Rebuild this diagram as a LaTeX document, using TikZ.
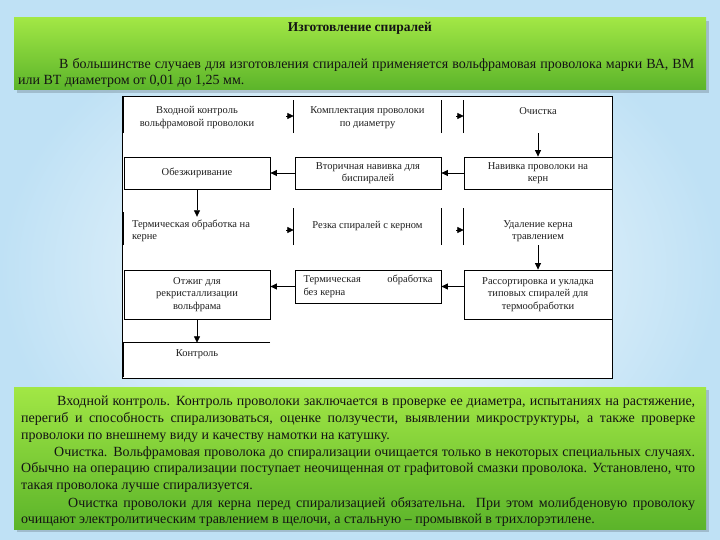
\documentclass[tikz,border=0pt]{standalone}
\usepackage{fontspec}
\setmainfont{Liberation Serif}
\usetikzlibrary{arrows.meta}
\definecolor{bgblue}{HTML}{BFE1F5}
\definecolor{gtop}{HTML}{A2E745}
\definecolor{gbot}{HTML}{5BB42A}
\definecolor{ink}{HTML}{141414}
\begin{document}
\begin{tikzpicture}[x=1pt,y=-1pt,
  fbox/.style={minimum width=146pt, inner sep=0pt, align=center, text=black!88,
    font=\fontsize{10.5}{12.5}\selectfont},
  fb/.style={draw=black, line width=0.8pt},
  tip/.style={-{Triangle[length=6.5pt,width=6pt]}, line width=0.8pt},
  para/.style={anchor=base west, inner sep=0pt, text=ink, font=\fontsize{14}{16}\selectfont},
  greenpanel/.style={top color=gtop, bottom color=gbot},
  shadowpanel/.style={fill=black, opacity=0.16}
  ]
\useasboundingbox (0,0) rectangle (720,540);
% background
\shade[inner color=white, outer color=bgblue] (0,0) rectangle (720,540);

% top green panel
\fill[shadowpanel] (17,21) rectangle (709,93);
\shade[greenpanel] (14,18) rectangle (706,90);
\node[inner sep=0pt, text=ink, font=\bfseries\fontsize{13.5}{15}\selectfont] (title) at (360,28) {Изготовление спиралей};
\node[para] (p1) at (59,68.5) {\makebox[635pt][s]{В большинстве случаев для изготовления спиралей применяется вольфрамовая проволока марки ВА, ВМ}};
\node[para] (p2) at (18,84.5) {или ВТ диаметром от 0,01 до 1,25 мм.};

% white flowchart panel
\fill[white] (122,96) rectangle (612,378);
\draw[line width=0.8pt] (122,96) rectangle (612,378);
\coordinate (pbot) at (0,377);

% row 1
\node[fbox, minimum height=31pt] (b11) at (197,117.5) {Входной контроль\\вольфрамовой проволоки};
\node[fbox, minimum width=147pt, minimum height=31pt] (b12) at (367.5,117.5) {Комплектация проволоки\\по диаметру};
\node[fbox, minimum width=148pt, minimum height=31pt] (b13) at (538,117.5) {Очистка\\\phantom{x}};
\draw[fb] (b11.south west) -- ([yshift=5pt]b11.north west);
\draw[fb] (b12.south west) -- ([yshift=2pt]b12.north west);
\draw[fb] (b12.south east) -- ([yshift=2pt]b12.north east);
\draw[fb] (b13.south west) -- ([yshift=2pt]b13.north west);

% row 2
\node[fbox, fb, minimum height=32pt] (b21) at (197,173) {Обезжиривание};
\node[fbox, fb, minimum height=32pt] (b22) at (368,173) {Вторичная навивка для\\биспиралей};
\node[fbox, fb, minimum width=148pt, minimum height=32pt] (b23) at (538,173) {Навивка проволоки на\\керн};

% row 3
\node[fbox, minimum height=28pt] (b31) at (197,231) {\makebox[130pt][l]{Термическая обработка на}\\\makebox[130pt][l]{керне}};
\node[fbox, minimum width=147pt, minimum height=28pt] (b32) at (367.5,231) {Резка спиралей с керном\\\phantom{x}};
\node[fbox, minimum width=148pt, minimum height=28pt] (b33) at (538,231) {Удаление керна\\травлением};
\draw[fb] (b31.south west) -- ([yshift=5pt]b31.north west);
\draw[fb] (b32.south west) -- ([yshift=9pt]b32.north west);
\draw[fb] (b32.south east) -- ([yshift=9pt]b32.north east);
\draw[fb] (b33.south west) -- ([yshift=9pt]b33.north west);

% row 4
\node[fbox, fb, minimum height=49pt] (b41) at (197,294.5) {Отжиг для\\рекристаллизации\\вольфрама};
\node[fbox, fb, minimum height=33pt] (b42) at (368,286.5) {\makebox[129pt][s]{Термическая обработка}\\\makebox[129pt][l]{без керна}};
\node[fbox, fb, minimum width=148pt, minimum height=49pt] (b43) at (538,294.5) {Рассортировка и укладка\\типовых спиралей для\\термообработки};

% row 5
\node[fbox, minimum height=22pt] (b5) at (197,354) {Контроль};
\draw[fb] (b5.north east) -- (b5.north west) -- (b5.north west |- pbot);

% connectors
\coordinate (a11) at (286,116);
\coordinate (a12) at (456,116);
\coordinate (a31) at (286,230);
\coordinate (a32) at (456,230);
\draw[tip] (a11) -- (a11 -| b12.west);
\draw[tip] (a12) -- (a12 -| b13.west);
\draw[tip] (b13.south) -- (b23.north);
\draw[tip] (b23.west) -- (b22.east);
\draw[tip] (b22.west) -- (b21.east);
\draw[tip] (b21.south) -- (b21.south |- b31.north);
\draw[tip] (a31) -- (a31 -| b32.west);
\draw[tip] (a32) -- (a32 -| b33.west);
\draw[tip] (b33.south) -- (b43.north);
\draw[tip] (b43.west |- b42.east) -- (b42.east);
\draw[tip] (b42.west) -- (b42.west -| b41.east);
\draw[tip] (b41.south) -- (b5.north);

% bottom green panel
\fill[shadowpanel] (17,390) rectangle (709,532);
\shade[greenpanel] (14,387) rectangle (706,529);
\node[para] (q1) at (57,405) {\makebox[638pt][s]{Входной контроль. Контроль проволоки заключается в проверке ее диаметра, испытаниях на растяжение,}};
\node[para] (q2) at (21,422) {\makebox[674pt][s]{перегиб и способность спирализоваться, оценке ползучести, выявлении микроструктуры, а также проверке}};
\node[para] (q3) at (21,439) {проволоки по внешнему виду и качеству намотки на катушку.};
\node[para] (q4) at (54,456) {\makebox[641pt][s]{Очистка. Вольфрамовая проволока до спирализации очищается только в некоторых специальных случаях.}};
\node[para] (q5) at (21,472) {\makebox[674pt][s]{Обычно на операцию спирализации поступает неочищенная от графитовой смазки проволока. Установлено, что}};
\node[para] (q6) at (21,489) {такая проволока лучше спирализуется.};
\node[para] (q7) at (68,507) {\makebox[627pt][s]{Очистка проволоки для керна перед спирализацией обязательна. При этом молибденовую проволоку}};
\node[para] (q8) at (21,523) {очищают электролитическим травлением в щелочи, а стальную – промывкой в трихлорэтилене.};
\end{tikzpicture}
\end{document}
